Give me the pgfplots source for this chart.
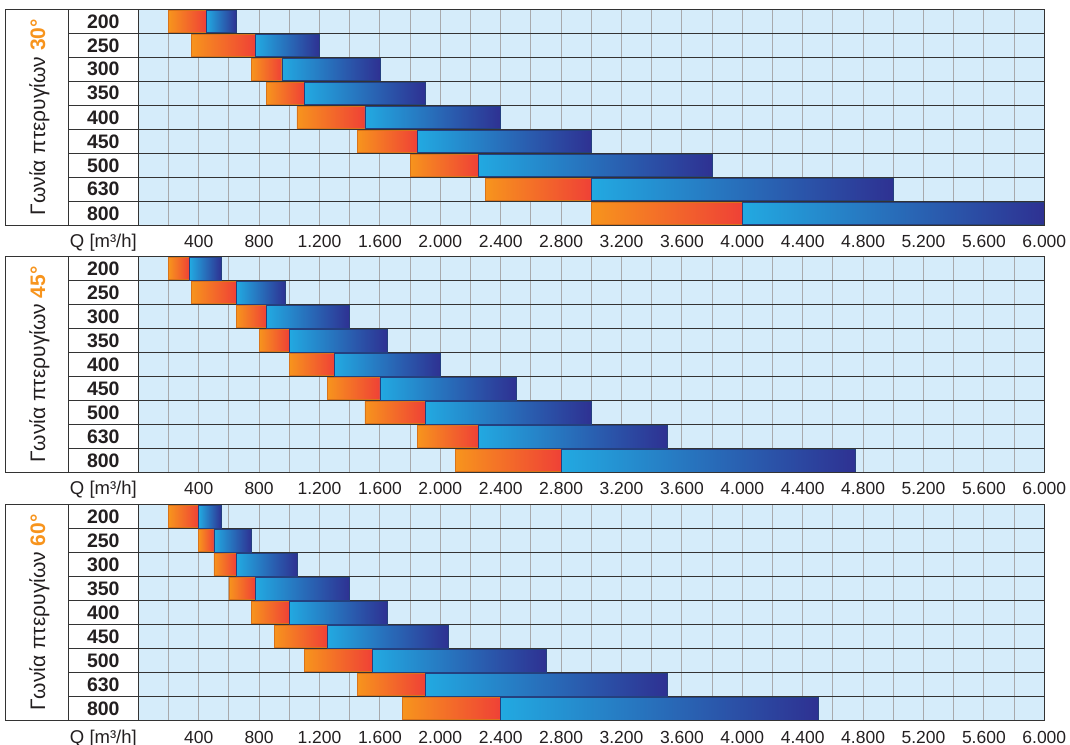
\documentclass[border=0pt]{standalone}
\usepackage{fontspec}
\setmainfont{Liberation Sans}
\usepackage{pgfplots}
\usepackage{pgfplotstable}
\pgfplotsset{compat=1.18}

\definecolor{bgblue}{HTML}{D5ECFA}
\definecolor{oA}{HTML}{F7941D}
\definecolor{oB}{HTML}{EF4136}
\definecolor{oD}{HTML}{D9731A}
\definecolor{bA}{HTML}{22A9E1}
\definecolor{bB}{HTML}{2E3192}
\definecolor{bD}{HTML}{24407F}
\definecolor{gridg}{HTML}{A7A9AC}
\definecolor{rowline}{HTML}{333333}
\definecolor{txt}{HTML}{231F20}

% row: 9 = top (200) ... 1 = bottom (800)
\pgfplotstableread{
row start oend bend
9 200 450 650
8 350 775 1200
7 750 950 1600
6 850 1100 1900
5 1050 1500 2400
4 1450 1850 3000
3 1800 2250 3800
2 2300 3000 5000
1 3000 4000 6000
}\tabA

\pgfplotstableread{
row start oend bend
9 200 340 550
8 350 650 975
7 650 850 1400
6 800 1000 1650
5 1000 1300 2000
4 1250 1600 2500
3 1500 1900 3000
2 1850 2250 3500
1 2100 2800 4750
}\tabB

\pgfplotstableread{
row start oend bend
9 200 400 550
8 400 500 750
7 500 650 1050
6 600 775 1400
5 750 1000 1650
4 900 1250 2050
3 1100 1550 2700
2 1450 1900 3500
1 1750 2400 4500
}\tabC

\pgfplotsset{
  orangebar/.style={left color=oA, right color=oB, draw=oD, line width=0.6pt},
  bluebar/.style={left color=bA, right color=bB, draw=bD, line width=0.5pt},
  panel/.style={
    scale only axis, width=906pt, height=216pt, anchor=south west,
    xmin=0, xmax=6000, ymin=0.5, ymax=9.5,
    axis background/.style={fill=bgblue},
    xtick={400,800,...,6000},
    xticklabels={400,800,1.200,1.600,2.000,2.400,2.800,3.200,3.600,4.000,4.400,4.800,5.200,5.600,6.000},
    minor xtick={200,400,...,5800},
    ytick={1,...,9},
    yticklabels={800,630,500,450,400,350,300,250,200},
    minor ytick={1.5,2.5,...,8.5},
    xmajorgrids=false, ymajorgrids=false,
    xminorgrids=true, yminorgrids=true,
    x grid style={gridg, line width=0.9pt},
    y grid style={rowline, line width=1.4pt},
    major tick length=0pt, minor tick length=0pt,
    tick style={draw=none},
    axis line style={rowline, line width=1.4pt},
    x tick label style={font=\fontsize{17.5}{19}\selectfont, text=txt, anchor=base, yshift=-22.5pt},
    y tick label style={font=\fontsize{19.5}{21}\selectfont\bfseries, text=txt, anchor=center, xshift=-35pt},
  },
}

% one horizontal bar: row, x from, x to, style
\newcommand\hb[4]{%
  \pgfmathsetmacro\ylo{#1-0.47}%
  \pgfmathsetmacro\yhi{#1+0.47}%
  \edef\hbtmp{\noexpand\addplot[#4] coordinates {(#2,\ylo) (#3,\ylo) (#3,\yhi) (#2,\yhi)} -- cycle;}%
  \hbtmp
}

\newcommand\bars[1]{%
  \pgfplotsinvokeforeach{0,...,8}{%
    \pgfplotstablegetelem{##1}{row}\of{#1}\let\rr\pgfplotsretval
    \pgfplotstablegetelem{##1}{start}\of{#1}\let\xa\pgfplotsretval
    \pgfplotstablegetelem{##1}{oend}\of{#1}\let\xb\pgfplotsretval
    \pgfplotstablegetelem{##1}{bend}\of{#1}\let\xc\pgfplotsretval
    \hb{\rr}{\xa}{\xb}{orangebar}%
    \hb{\rr}{\xb}{\xc}{bluebar}%
  }%
}

\newcommand\panel[3]{%
  \begin{axis}[panel, at={(138.3pt,#1pt)}]
    \bars{#2}
  \end{axis}
  \draw[rowline, line width=1.4pt] (5.7pt,#1pt) rectangle (1044.3pt,#1pt+216pt);
  \draw[rowline, line width=1.4pt] (68.3pt,#1pt) -- (68.3pt,#1pt+216pt);
  \foreach \k in {1,...,8}
    \draw[rowline, line width=1.4pt] (68.3pt,#1pt+\k*24pt) -- (138.3pt,#1pt+\k*24pt);
  \node[rotate=90, anchor=base, text=txt, inner sep=0pt, font=\fontsize{21}{23}\selectfont]
    at (45pt,#1pt+108pt) {Γωνία πτερυγίων \textcolor{oA}{\bfseries #3°}};
  \node[anchor=base east, inner sep=0pt, text=txt, font=\fontsize{18.5}{20}\selectfont]
    at (137pt,#1pt-22.5pt) {Q [m³/h]};
}

\begin{document}
\begin{tikzpicture}
  \path[use as bounding box] (0,0) rectangle (1070pt,744pt);
  \panel{518.7}{\tabA}{30}
  \panel{271.5}{\tabB}{45}
  \panel{23.5}{\tabC}{60}
\end{tikzpicture}
\end{document}
